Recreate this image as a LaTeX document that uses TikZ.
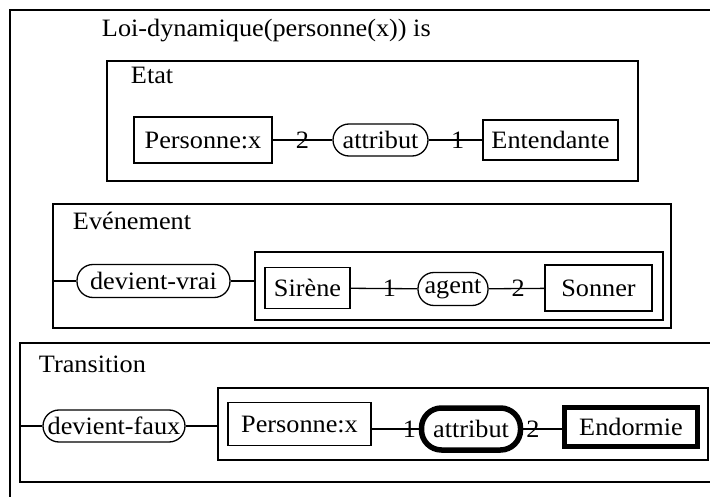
\documentclass[tikz,border=0pt]{standalone}
\usepackage{fontspec}
\setmainfont{Liberation Serif}[FakeStretch=1.05]

\tikzset{
  cg/.style={x=1pt, y=-1pt, line width=1.3pt, font=\fontsize{25}{30}\selectfont},
  ctx/.style={draw, inner sep=0pt},
  concept/.style={draw, inner sep=0pt},
  relation/.style={draw, inner sep=0pt, rounded corners=16pt},
  marked/.style={line width=5.5pt},
  num/.style={inner sep=0pt}
}

\begin{document}
\begin{tikzpicture}[cg]
      \clip (0,0) rectangle (710,497);
      \node[name=loi, ctx, minimum width=704, minimum height=495] at (362,257.5){};
      \node[name=titre, anchor=base west] at (98,37){Loi-dynamique(personne(x)) is};

      % etat
      \node[name=etat, ctx, minimum width=531, minimum height=120] at (372.5,121){};
      \node[name=etattxt, anchor=base west] at (127,84){Etat};
      \node[name=pers1, concept, minimum width=138, minimum height=46] at (203,140){Personne:x};
      \node[name=attr1, relation, minimum width=95, minimum height=32] at (380.5,140){attribut};
      \node[name=ent, concept, minimum width=135, minimum height=40] at (550.5,140){Entendante};
      \draw (pers1) -- node[num]{2} (attr1);
      \draw (attr1) -- node[num, pos=0.54]{1} (ent);

      % evenement
      \node[name=evt, ctx, minimum width=618, minimum height=124] at (362,266){};
      \node[name=evttxt, anchor=base west] at (69,230){Evénement};
      \node[name=dvrai, relation, minimum width=153, minimum height=33] at (153.5,281){devient-vrai};
      \node[name=evin, ctx, minimum width=408, minimum height=68] at (459,286){};
      \node[name=sirene, concept, minimum width=85, minimum height=41] at (307.5,288){Sirène};
      \node[name=agent, relation, minimum width=70, minimum height=33] at (453,289){agent};
      \node[name=sonner, concept, minimum width=107, minimum height=46] at (598.5,288){Sonner};
      \draw (evt.west |- dvrai) -- (dvrai);
      \draw (dvrai) -- (dvrai -| evin.west);
      \draw (sirene) -- node[num, pos=0.58]{1} (agent);
      \draw (agent) -- node[num, pos=0.53]{2} (sonner);

      % transition
      \node[name=trans, ctx, minimum width=694, minimum height=139] at (367,412.5){};
      \node[name=transtxt, anchor=base west] at (35,372){Transition};
      \node[name=dfaux, relation, minimum width=142, minimum height=32] at (114,426){devient-faux};
      \node[name=trin, ctx, minimum width=490, minimum height=72] at (463,424){};
      \node[name=pers2, concept, minimum width=143, minimum height=43] at (299.5,424){Personne:x};
      \node[name=attr2, relation, marked, rounded corners=20pt, minimum width=99, minimum height=42] at (471,429){attribut};
      \node[name=endo, concept, marked, minimum width=133, minimum height=39] at (631,427){Endormie};
      \draw (trans.west |- dfaux) -- (dfaux);
      \draw (dfaux) -- (dfaux -| trin.west);
      \draw (pers2.east |- attr2) -- node[num, pos=0.8]{1} (attr2);
      \draw (attr2) -- node[num, pos=0.25]{2} (endo.west |- attr2);
    \end{tikzpicture}
\end{document}
